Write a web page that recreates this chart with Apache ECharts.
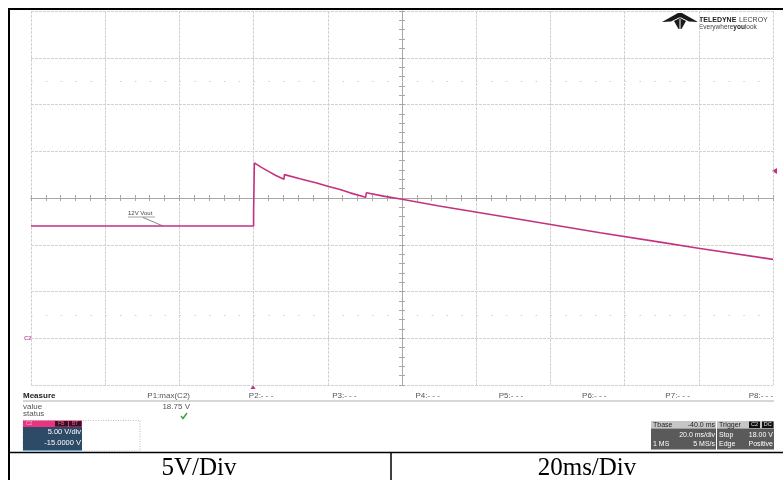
<!DOCTYPE html>
<html>
<head>
<meta charset="utf-8">
<script src="https://cdn.jsdelivr.net/npm/echarts@6/dist/echarts.min.js"></script>
<style>
  html, body { margin: 0; padding: 0; background: #ffffff; }
  #chart { width: 783px; height: 480px; }
</style>
</head>
<body>
<div id="chart"></div>
<script>
// C2 output voltage capture: time in ms relative to trigger, voltage in V
const timeMs = [-60, 0, 0, 0.2, 2, 4, 6, 8.2, 8.3, 12.5, 17, 20, 23.3, 26, 30.2, 30.4, 35, 40, 50, 70, 93.4, 110, 119.9, 140];
const volts  = [12.0, 12.0, 13.5, 18.75, 18.3, 17.85, 17.4, 17.0, 17.5, 17.06, 16.6, 16.25, 15.9, 15.55, 15.07, 15.57, 15.2, 14.86, 14.14, 12.84, 11.29, 10.25, 9.62, 8.44];

// Screen scales: 20 ms/div over 10 divisions, 5 V/div over 8 divisions, offset -15 V
const timeRange = [-60, 140];
const voltRange = [-5, 35];
const timePerDiv = 20;
const voltPerDiv = 5;

// Measurement bar text
const measureCols = ['P1:max(C2)', 'P2:- - -', 'P3:- - -', 'P4:- - -', 'P5:- - -', 'P6:- - -', 'P7:- - -', 'P8:- - -'];
const p1Value = '18.75 V';
const traceLabel = '12V Vout';
const footerLeft = '5V/Div';
const footerRight = '20ms/Div';

const TRACE = '#c4327f';
const GRID = '#d2d2d2';
const AXIS = '#a8a8a8';
const SANS = '"Liberation Sans", Arial, sans-serif';

const chart = echarts.init(document.getElementById('chart'), null, { renderer: 'canvas' });

const gridL = 31, gridT = 11, gridW = 742, gridH = 374;

const graphics = [
  // page frame
  { type: 'line', shape: { x1: 8, y1: 9, x2: 783, y2: 9 }, style: { stroke: '#000', lineWidth: 2 } },
  { type: 'line', shape: { x1: 9, y1: 9, x2: 9, y2: 480 }, style: { stroke: '#000', lineWidth: 2 } },
  { type: 'line', shape: { x1: 8, y1: 452.5, x2: 783, y2: 452.5 }, style: { stroke: '#000', lineWidth: 1.5 } },
  { type: 'line', shape: { x1: 391, y1: 452, x2: 391, y2: 480 }, style: { stroke: '#000', lineWidth: 1.5 } },
  { type: 'text', x: 199, y: 468, style: { text: footerLeft, fill: '#000', font: '25px "Liberation Serif", "Times New Roman", serif', textAlign: 'center', textVerticalAlign: 'middle' } },
  { type: 'text', x: 587, y: 468, style: { text: footerRight, fill: '#000', font: '25px "Liberation Serif", "Times New Roman", serif', textAlign: 'center', textVerticalAlign: 'middle' } },

  // trace label with leader
  { type: 'text', x: 128, y: 213, style: { text: traceLabel, fill: '#444', font: '6px ' + SANS, textVerticalAlign: 'middle' } },
  { type: 'line', shape: { x1: 128, y1: 217, x2: 155, y2: 217 }, style: { stroke: '#666', lineWidth: 0.6 } },
  { type: 'line', shape: { x1: 143, y1: 217.5, x2: 163, y2: 226 }, style: { stroke: '#555', lineWidth: 0.7 } },

  // channel ground marker, trigger level marker, trigger position marker
  { type: 'text', x: 24, y: 338, style: { text: 'C2', fill: '#c45aa0', font: 'bold 6px ' + SANS, textVerticalAlign: 'middle' } },
  { type: 'polygon', shape: { points: [[772, 171], [777, 168], [777, 174]] }, style: { fill: TRACE } },
  { type: 'polygon', shape: { points: [[253, 385], [250.5, 389], [255.5, 389]] }, style: { fill: TRACE } },

  // logo
  { type: 'polygon', shape: { points: [[662, 22], [678, 13], [682, 13], [698, 22], [689, 21.5], [681, 17.5], [679, 17.5], [671, 21.5]] }, style: { fill: '#1a1a1a' } },
  { type: 'polygon', shape: { points: [[674, 21], [680, 18], [686, 21], [681.5, 29], [678.5, 29]] }, style: { fill: '#1a1a1a' } },
  { type: 'line', shape: { x1: 680, y1: 19, x2: 680, y2: 29 }, style: { stroke: '#ffffff', lineWidth: 1 } },
  { type: 'text', x: 699, y: 20, style: { text: 'TELEDYNE', fill: '#222', font: 'bold 7px ' + SANS, textVerticalAlign: 'middle' } },
  { type: 'text', x: 739, y: 20, style: { text: 'LECROY', fill: '#444', font: '7px ' + SANS, textVerticalAlign: 'middle' } },
  { type: 'text', x: 699, y: 27, style: { rich: { a: { fill: '#444', font: '6.5px ' + SANS }, b: { fill: '#222', font: 'bold 6.5px ' + SANS } }, text: '{a|Everywhere}{b|you}{a|look}', textVerticalAlign: 'middle' } },

  // measurement table
  { type: 'text', x: 23, y: 396, style: { text: 'Measure', fill: '#222', font: 'bold 8px ' + SANS, textVerticalAlign: 'middle' } },
  { type: 'line', shape: { x1: 23, y1: 401, x2: 774, y2: 401 }, style: { stroke: '#9a9a9a', lineWidth: 0.8 } },
  { type: 'text', x: 23, y: 406.5, style: { text: 'value', fill: '#555', font: '8px ' + SANS, textVerticalAlign: 'middle' } },
  { type: 'text', x: 23, y: 414, style: { text: 'status', fill: '#555', font: '8px ' + SANS, textVerticalAlign: 'middle' } },
  { type: 'text', x: 190, y: 406.5, style: { text: p1Value, fill: '#555', font: '8px ' + SANS, textAlign: 'right', textVerticalAlign: 'middle' } },
  { type: 'polyline', shape: { points: [[181, 416], [183, 418.5], [187, 413]] }, style: { stroke: '#3aa43a', lineWidth: 1.5, fill: null } },

  // channel descriptor
  { type: 'rect', shape: { x: 23, y: 420.5, width: 117, height: 30.5 }, style: { fill: 'none', stroke: '#aaa', lineWidth: 0.8, lineDash: [1, 1.5] } },
  { type: 'rect', shape: { x: 23, y: 420.5, width: 59, height: 6.5 }, style: { fill: '#e8357f' } },
  { type: 'rect', shape: { x: 55, y: 421, width: 13, height: 5.5 }, style: { fill: '#3a1020' } },
  { type: 'rect', shape: { x: 69, y: 421, width: 12.5, height: 5.5 }, style: { fill: '#3a1020' } },
  { type: 'text', x: 26, y: 424, style: { text: 'C2', fill: '#ffb0d0', font: '5px ' + SANS, textVerticalAlign: 'middle' } },
  { type: 'text', x: 58, y: 424, style: { text: 'FB', fill: '#e86090', font: '5px ' + SANS, textVerticalAlign: 'middle' } },
  { type: 'text', x: 72, y: 424, style: { text: 'BT', fill: '#e86090', font: '5px ' + SANS, textVerticalAlign: 'middle' } },
  { type: 'rect', shape: { x: 23, y: 427, width: 59, height: 24 }, style: { fill: '#2d4a66' } },
  { type: 'line', shape: { x1: 23, y1: 450.5, x2: 82, y2: 450.5 }, style: { stroke: '#5aaee0', lineWidth: 1 } },
  { type: 'text', x: 81, y: 432, style: { text: '5.00 V/div', fill: '#ffffff', font: '7.5px ' + SANS, textAlign: 'right', textVerticalAlign: 'middle' } },
  { type: 'text', x: 81, y: 443, style: { text: '-15.0000 V', fill: '#ffffff', font: '7.5px ' + SANS, textAlign: 'right', textVerticalAlign: 'middle' } },

  // timebase descriptor
  { type: 'rect', shape: { x: 651, y: 421, width: 65, height: 7.5 }, style: { fill: '#c6c6c6' } },
  { type: 'rect', shape: { x: 651, y: 428.5, width: 65, height: 21 }, style: { fill: '#5a5a5a' } },
  { type: 'text', x: 653, y: 424.7, style: { text: 'Tbase', fill: '#222', font: '7px ' + SANS, textVerticalAlign: 'middle' } },
  { type: 'text', x: 715, y: 424.7, style: { text: '-40.0 ms', fill: '#222', font: '7px ' + SANS, textAlign: 'right', textVerticalAlign: 'middle' } },
  { type: 'text', x: 715, y: 435, style: { text: '20.0 ms/div', fill: '#ffffff', font: '7px ' + SANS, textAlign: 'right', textVerticalAlign: 'middle' } },
  { type: 'text', x: 653, y: 444.5, style: { text: '1 MS', fill: '#ffffff', font: '7px ' + SANS, textVerticalAlign: 'middle' } },
  { type: 'text', x: 715, y: 444.5, style: { text: '5 MS/s', fill: '#ffffff', font: '7px ' + SANS, textAlign: 'right', textVerticalAlign: 'middle' } },

  // trigger descriptor
  { type: 'rect', shape: { x: 717, y: 421, width: 57, height: 7.5 }, style: { fill: '#c6c6c6' } },
  { type: 'rect', shape: { x: 717, y: 428.5, width: 57, height: 21 }, style: { fill: '#5a5a5a' } },
  { type: 'text', x: 719, y: 424.7, style: { text: 'Trigger', fill: '#222', font: '7px ' + SANS, textVerticalAlign: 'middle' } },
  { type: 'rect', shape: { x: 749, y: 421.5, width: 11, height: 6.5 }, style: { fill: '#111' } },
  { type: 'rect', shape: { x: 762, y: 421.5, width: 11.5, height: 6.5 }, style: { fill: '#111' } },
  { type: 'text', x: 754.5, y: 424.8, style: { text: 'C2', fill: '#e0e0e0', font: '5.5px ' + SANS, textAlign: 'center', textVerticalAlign: 'middle' } },
  { type: 'text', x: 767.7, y: 424.8, style: { text: 'DC', fill: '#e0e0e0', font: '5.5px ' + SANS, textAlign: 'center', textVerticalAlign: 'middle' } },
  { type: 'text', x: 719, y: 435, style: { text: 'Stop', fill: '#ffffff', font: '7px ' + SANS, textVerticalAlign: 'middle' } },
  { type: 'text', x: 773, y: 435, style: { text: '18.00 V', fill: '#ffffff', font: '7px ' + SANS, textAlign: 'right', textVerticalAlign: 'middle' } },
  { type: 'text', x: 719, y: 444.5, style: { text: 'Edge', fill: '#ffffff', font: '7px ' + SANS, textVerticalAlign: 'middle' } },
  { type: 'text', x: 773, y: 444.5, style: { text: 'Positive', fill: '#ffffff', font: '7px ' + SANS, textAlign: 'right', textVerticalAlign: 'middle' } }
];

// measurement column headers, right-aligned in equal columns
measureCols.forEach(function (s, i) {
  graphics.push({ type: 'text', x: 190 + i * 83.3, y: 396, style: { text: s, fill: '#555', font: '8px ' + SANS, textAlign: 'right', textVerticalAlign: 'middle' } });
});

// center cross-hair axes, graduated in divisions with 1/5 division marks
function centerAxis(inside) {
  return {
    type: 'value', gridIndex: 0,
    axisLine: { show: true, onZero: true, onZeroAxisIndex: 1, lineStyle: { color: AXIS, width: 1 } },
    axisTick: { show: true, inside: inside, length: 3, lineStyle: { color: AXIS } },
    minorTick: { show: true, splitNumber: 5, length: 3, lineStyle: { color: AXIS } },
    axisLabel: { show: false },
    splitLine: { show: false }
  };
}
const cx1 = Object.assign(centerAxis(true), { min: -5, max: 5, interval: 1 });
const cx2 = Object.assign(centerAxis(false), { min: -5, max: 5, interval: 1 });
const cy1 = Object.assign(centerAxis(true), { min: -4, max: 4, interval: 1 });
const cy2 = Object.assign(centerAxis(false), { min: -4, max: 4, interval: 1 });

const option = {
  backgroundColor: '#ffffff',
  animation: false,
  grid: { left: gridL, top: gridT, width: gridW, height: gridH, show: false },
  xAxis: [
    {
      type: 'value', min: timeRange[0], max: timeRange[1], interval: timePerDiv,
      axisLine: { show: false, onZero: false }, axisTick: { show: false }, axisLabel: { show: false },
      splitLine: { show: true, showMinLine: true, showMaxLine: true, lineStyle: { color: GRID, width: 1, type: [3, 1] } }
    },
    cx1, cx2
  ],
  yAxis: [
    {
      type: 'value', min: voltRange[0], max: voltRange[1], interval: voltPerDiv,
      axisLine: { show: false, onZero: false }, axisTick: { show: false }, axisLabel: { show: false },
      splitLine: { show: true, showMinLine: true, showMaxLine: true, lineStyle: { color: GRID, width: 1, type: [3, 1] } }
    },
    cy1, cy2
  ],
  series: [
    {
      name: 'C2', type: 'line', xAxisIndex: 0, yAxisIndex: 0,
      data: timeMs.map(function (t, i) { return [t, volts[i]]; }),
      showSymbol: false, symbol: 'none',
      lineStyle: { color: TRACE, width: 1.6 },
      z: 10,
      markLine: {
        silent: true, symbol: 'none', label: { show: false },
        lineStyle: { color: '#cfcfcf', width: 1, type: [1.5, 13.34] },
        data: [{ yAxis: 27.5 }, { yAxis: 2.5 }]
      }
    }
  ],
  graphic: graphics
};

chart.setOption(option);
</script>
</body>
</html>
